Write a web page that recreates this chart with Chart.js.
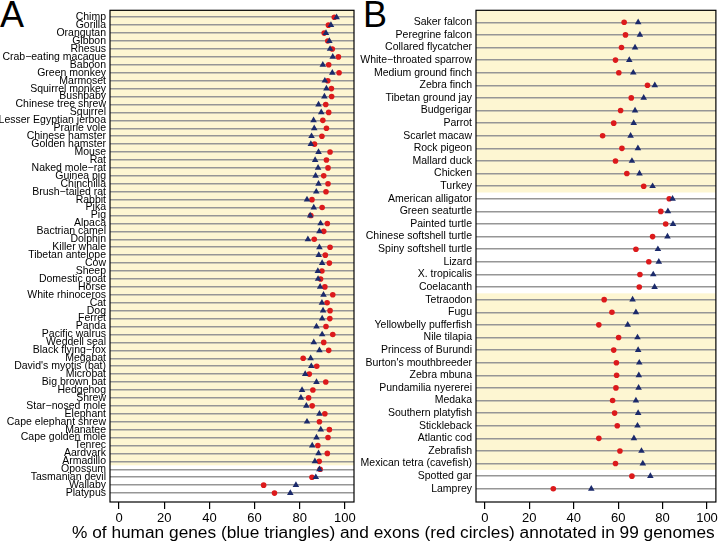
<!DOCTYPE html>
<html>
<head>
<meta charset="utf-8">
<script src="https://cdn.jsdelivr.net/npm/chart.js@4.4.0/dist/chart.umd.min.js"></script>
<style>
  body { margin: 0; width: 720px; height: 545px; background: #fff; position: relative; overflow: hidden; font-family: "Liberation Sans", Arial, sans-serif; }
  canvas { position: absolute; top: 0; }
  #cvA { left: 0; }
  #cvB { left: 360px; }
  .letter { position: absolute; top: -6px; font-size: 36px; color: #000; }
  #xtitle { position: absolute; left: 72px; top: 522px; font-size: 17.3px; white-space: nowrap; color: #000; }
</style>
</head>
<body>
<div class="letter" style="left:0px">A</div>
<div class="letter" style="left:363px">B</div>
<canvas id="cvA" width="360" height="545"></canvas>
<canvas id="cvB" width="360" height="545"></canvas>
<div id="xtitle">% of human genes (blue triangles) and exons (red circles) annotated in 99 genomes</div>
<script>
// panel A: mammals + marsupials + platypus
const speciesA = ['Chimp', 'Gorilla', 'Orangutan', 'Gibbon', 'Rhesus', 'Crab−eating macaque', 'Baboon',
  'Green monkey', 'Marmoset', 'Squirrel monkey', 'Bushbaby', 'Chinese tree shrew', 'Squirrel',
  'Lesser Egyptian jerboa', 'Prairie vole', 'Chinese hamster', 'Golden hamster', 'Mouse', 'Rat',
  'Naked mole−rat', 'Guinea pig', 'Chinchilla', 'Brush−tailed rat', 'Rabbit', 'Pika', 'Pig', 'Alpaca',
  'Bactrian camel', 'Dolphin', 'Killer whale', 'Tibetan antelope', 'Cow', 'Sheep', 'Domestic goat',
  'Horse', 'White rhinoceros', 'Cat', 'Dog', 'Ferret', 'Panda', 'Pacific walrus', 'Weddell seal',
  'Black flying−fox', 'Megabat', "David's myotis (bat)", 'Microbat', 'Big brown bat', 'Hedgehog',
  'Shrew', 'Star−nosed mole', 'Elephant', 'Cape elephant shrew', 'Manatee', 'Cape golden mole',
  'Tenrec', 'Aardvark', 'Armadillo', 'Opossum', 'Tasmanian devil', 'Wallaby', 'Platypus'];
const genesA = [96.3, 93.8, 91.6, 93.1, 93.4, 94.6, 90.2, 94.4, 91.1, 91.8, 90.9, 88.3, 89.5,
  86.1, 86.4, 85.2, 84.9, 88.3, 86.8, 88.1, 87.0, 88.3, 87.3, 83.2, 86.2, 84.6, 89.2,
  88.7, 83.6, 88.7, 88.4, 89.9, 88.0, 88.1, 89.0, 90.5, 89.8, 90.3, 89.9, 87.4, 89.9, 86.2,
  88.7, 84.8, 85.1, 82.4, 87.4, 81.0, 80.5, 82.9, 88.7, 83.2, 89.3, 87.4,
  85.5, 88.3, 86.7, 88.7, 87.1, 78.3, 75.8];
const exonsA = [95.3, 92.7, 90.8, 92.4, 94.4, 97.1, 92.8, 97.4, 92.4, 94.0, 94.1, 91.5, 92.8,
  90.2, 91.8, 89.8, 86.5, 93.4, 91.8, 92.5, 90.6, 92.5, 91.6, 85.4, 89.9, 84.9, 92.2,
  90.6, 86.4, 93.4, 91.3, 93.1, 89.8, 89.2, 91.1, 94.6, 92.1, 93.4, 93.3, 91.6, 94.6, 90.6,
  92.8, 81.5, 87.5, 84.2, 91.5, 85.8, 83.9, 85.5, 91.1, 88.7, 93.1, 92.5,
  88.0, 92.2, 88.6, 89.0, 85.4, 64.0, 68.8];
const bandsA = [[0, 57.5]];

// panel B: birds, reptiles, fish
const speciesB = ['Saker falcon', 'Peregrine falcon', 'Collared flycatcher', 'White−throated sparrow',
  'Medium ground finch', 'Zebra finch', 'Tibetan ground jay', 'Budgerigar', 'Parrot', 'Scarlet macaw',
  'Rock pigeon', 'Mallard duck', 'Chicken', 'Turkey', 'American alligator', 'Green seaturtle',
  'Painted turtle', 'Chinese softshell turtle', 'Spiny softshell turtle', 'Lizard', 'X. tropicalis',
  'Coelacanth', 'Tetraodon', 'Fugu', 'Yellowbelly pufferfish', 'Nile tilapia', 'Princess of Burundi',
  "Burton's mouthbreeder", 'Zebra mbuna', 'Pundamilia nyererei', 'Medaka', 'Southern platyfish',
  'Stickleback', 'Atlantic cod', 'Zebrafish', 'Mexican tetra (cavefish)', 'Spotted gar', 'Lamprey'];
const genesB = [69.0, 69.8, 67.6, 65.0, 66.8, 76.5, 71.5, 67.6, 67.0, 65.6, 68.9, 66.2, 69.6, 75.5,
  84.5, 82.4, 84.7, 82.2, 77.9, 78.3, 75.8, 76.4, 66.5, 68.0, 64.3, 68.7, 69.0, 69.5, 69.3, 69.2,
  68.0, 69.0, 68.7, 67.1, 70.5, 71.1, 74.5, 47.9];
const exonsB = [62.7, 63.3, 61.5, 58.8, 60.3, 73.2, 65.9, 61.1, 58.0, 53.0, 61.7, 58.8, 63.9, 71.5,
  83.0, 79.2, 81.4, 75.5, 68.0, 73.8, 69.8, 69.5, 53.7, 57.2, 51.3, 60.2, 58.0, 59.2, 59.3, 59.0,
  57.5, 58.4, 59.6, 51.3, 60.8, 58.8, 66.2, 30.8];
const bandsB = [[0, 14.5], [22.5, 36.5]];

const xTicks = [0, 20, 40, 60, 80, 100];

const panelDecor = {
  id: 'panelDecor',
  beforeDraw(chart, args, opts) {
    const { ctx, chartArea: a } = chart;
    const y = chart.scales.y;
    ctx.save();
    ctx.fillStyle = '#fdf6d2';
    opts.bands.forEach(([from, to]) => {
      const t = Math.max(a.top, y.getPixelForValue(from));
      const b = Math.min(a.bottom, y.getPixelForValue(to));
      ctx.fillRect(a.left, t, a.right - a.left, b - t);
    });
    ctx.restore();
  },
  beforeDatasetsDraw(chart) {
    const { ctx, chartArea: a } = chart;
    ctx.save();
    ctx.strokeStyle = '#000';
    ctx.lineWidth = 1.2;
    ctx.strokeRect(a.left, a.top, a.right - a.left, a.bottom - a.top);
    ctx.restore();
  }
};

function makePanel(id, names, genes, exons, bands, yMin, yMax, axisWidth, padRight) {
  const ctx = document.getElementById(id).getContext('2d');
  return new Chart(ctx, {
    type: 'scatter',
    data: {
      datasets: [
        {
          label: 'genes',
          data: genes.map((v, i) => ({ x: v, y: i + 1 })),
          pointStyle: 'triangle',
          pointRadius: 3.8,
          backgroundColor: '#1b2a6b',
          borderWidth: 0
        },
        {
          label: 'exons',
          data: exons.map((v, i) => ({ x: v, y: i + 1 })),
          pointStyle: 'circle',
          pointRadius: 2.8,
          backgroundColor: '#dc1a1c',
          borderWidth: 0
        }
      ]
    },
    options: {
      responsive: false,
      animation: false,
      layout: { padding: { top: 7, right: padRight, left: 0, bottom: 0 } },
      plugins: {
        legend: { display: false },
        tooltip: { enabled: false },
        panelDecor: { bands: bands }
      },
      scales: {
        x: {
          type: 'linear',
          min: -4,
          max: 104,
          afterBuildTicks: s => { s.ticks = xTicks.map(v => ({ value: v })); },
          afterFit: s => { s.height = 43; },
          grid: { drawOnChartArea: false, drawTicks: true, tickLength: 7, color: '#000', lineWidth: 1.2 },
          border: { display: false },
          ticks: { color: '#000', padding: 2, font: { family: 'Liberation Sans, Arial', size: 13 } }
        },
        y: {
          type: 'linear',
          reverse: true,
          min: yMin,
          max: yMax,
          afterBuildTicks: s => { s.ticks = names.map((n, i) => ({ value: i + 1 })); },
          afterFit: s => { s.width = axisWidth; },
          grid: { drawTicks: false, color: '#969696', lineWidth: 1.5 },
          border: { display: false },
          ticks: {
            autoSkip: false,
            color: '#000',
            padding: 4,
            font: { family: 'Liberation Sans, Arial', size: 10.5 },
            callback: v => names[v - 1]
          }
        }
      }
    },
    plugins: [panelDecor]
  });
}

makePanel('cvA', speciesA, genesA, exonsA, bandsA, 0.125, 62.125, 110, 6);
makePanel('cvB', speciesB, genesB, exonsB, bandsB, 0.05, 39.05, 116, 1);
</script>
</body>
</html>
